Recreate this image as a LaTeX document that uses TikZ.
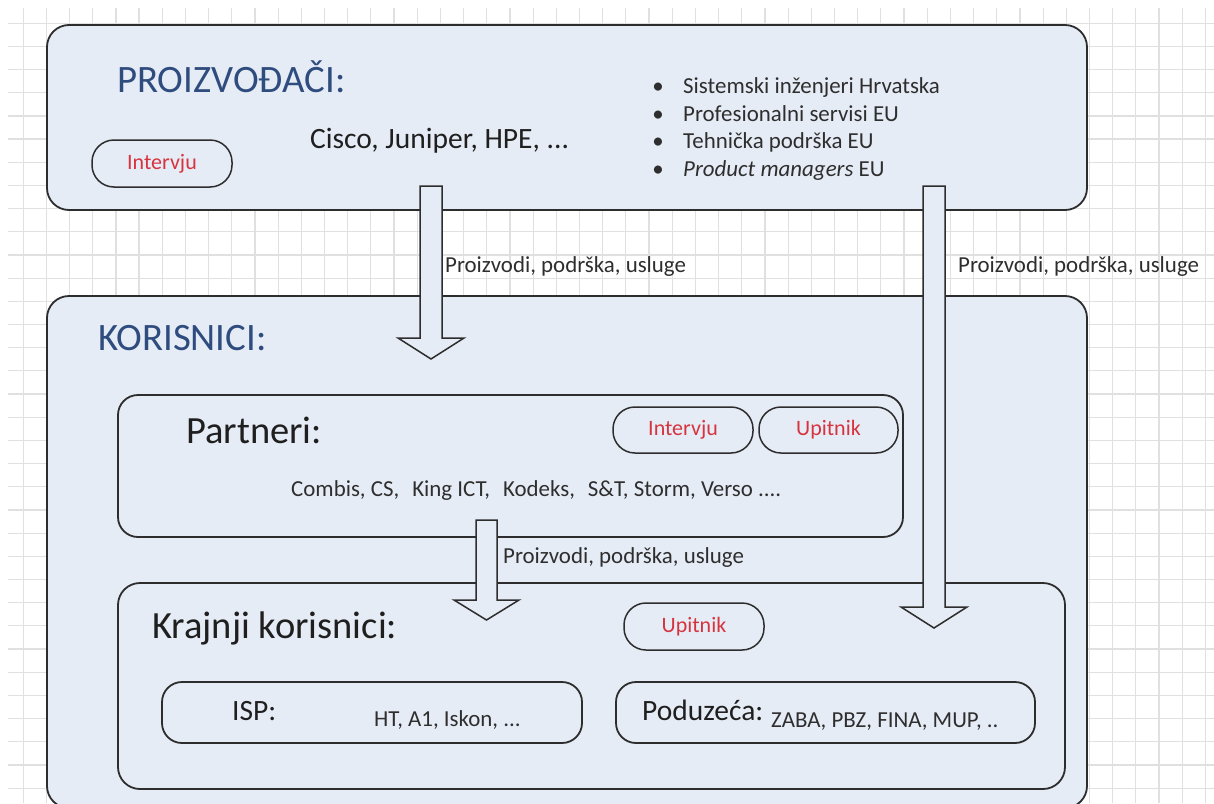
\documentclass[tikz,border=0pt]{standalone}
\usepackage{fontspec}
\setmainfont{Carlito}
\definecolor{boxfill}{RGB}{230,236,246}
\definecolor{titleblue}{RGB}{47,76,126}
\definecolor{redtxt}{RGB}{214,52,62}
\definecolor{edge}{RGB}{45,45,45}
\definecolor{gridc}{RGB}{224,224,224}
\tikzset{
  gridline/.style={draw=gridc, line width=1.2pt},
  bigbox/.style={draw=edge, fill=boxfill, line width=1.8pt, rounded corners=22pt},
  pill/.style={draw=edge, fill=boxfill, line width=1.5pt, rounded corners=22pt, inner sep=0pt,
    text=redtxt, font=\fontsize{22}{26}\selectfont},
  blockarr/.style={draw=edge, fill=boxfill, line width=1.5pt, line join=miter},
  body/.style={inner sep=0pt, text=black!82, font=\fontsize{22.9}{27}\selectfont},
  title/.style={inner sep=0pt, text=titleblue, font=\fontsize{38.8}{44}\selectfont},
  subtitle/.style={inner sep=0pt, text=black!88, font=\fontsize{38.5}{44}\selectfont},
  mid/.style={inner sep=0pt, text=black!88, font=\fontsize{29.5}{34}\selectfont},
}
\newcommand\mkarrow[7]{% name, xc, shaft half, head half, top, shaft bottom, tip
  \coordinate (#1-top) at (#2,#5);
  \coordinate (#1-tip) at (#2,#7);
  \draw[blockarr] (#2-#3,#5) -- (#2+#3,#5) -- (#2+#3,#6) -- (#2+#4,#6) -- (#1-tip)
    -- (#2-#4,#6) -- (#2-#3,#6) -- cycle;
}
\begin{document}
\begin{tikzpicture}[x=1pt,y=-1pt]
\useasboundingbox (0,0) rectangle (1214,803);
\fill[white] (0,0) rectangle (1214,803);
% grid
\foreach \i in {1,...,52} \draw[gridline] (\i*23.18,8) -- (\i*23.18,803);
\foreach \j in {1,...,34} \draw[gridline] (8,\j*23.18) -- (1214,\j*23.18);

% boxes
\draw[bigbox] (47,25) rectangle (1087,210);
\coordinate (prodbox) at (567,117);
\draw[bigbox] (47,296) rectangle (1087,808);
\coordinate (userbox) at (567,550);
\draw[bigbox, rounded corners=20pt] (118,395) rectangle (903,537);
\draw[bigbox, rounded corners=22pt] (118,583) rectangle (1065,789);
\draw[bigbox, rounded corners=20pt] (162,682) rectangle (582,743);
\draw[bigbox, rounded corners=20pt] (616,682) rectangle (1035,743);

% top box content
\node[title, anchor=base west] (proiz) at (117,92) {PROIZVOĐAČI:};
\node[mid, anchor=base west] (cisco) at (310,148) {Cisco, Juniper, HPE, ...};
\node[pill, minimum width=140pt, minimum height=47pt] (int1) at (162,163.5) {Intervju};
\foreach \t/\y in {{Sistemski inženjeri Hrvatska}/93, {Profesionalni servisi EU}/121,
                   {Tehnička podrška EU}/148, {\textit{Product managers} EU}/176}{
  \node[body, anchor=base] at (658,\y) {•};
  \node[body, anchor=base west] at (683,\y) {\t};
}

% users
\node[title, anchor=base west] (kor) at (98,350) {KORISNICI:};
\node[subtitle, anchor=base west] (part) at (186,443) {Partneri:};
\node[pill, minimum width=140pt, minimum height=46pt] (int2) at (683,430) {Intervju};
\node[pill, minimum width=139pt, minimum height=46pt] (upi2) at (828.5,430) {Upitnik};
\node[body, anchor=base west] (combis) at (291,496) {Combis, CS,\hspace{13pt}King ICT,\hspace{13pt}Kodeks,\hspace{13pt}S\&T, Storm, Verso ....};
\node[subtitle, anchor=base west] (kraj) at (152,638) {Krajnji korisnici:};
\node[pill, minimum width=140pt, minimum height=47pt] (upi3) at (694,626.5) {Upitnik};
\node[mid, anchor=base west] (isp) at (232,720) {ISP:};
\node[body, anchor=base west] (ispl) at (374,726) {HT, A1, Iskon, ...};
\node[mid, anchor=base west] (podu) at (642,720) {Poduzeća:};
\node[body, anchor=base west] (podl) at (771,727) {ZABA, PBZ, FINA, MUP, ..};

% block arrows
\mkarrow{a1}{431}{11}{33}{186}{338}{359}
\mkarrow{a2}{934}{11}{33}{186}{607}{628}
\mkarrow{a3}{486.5}{10.5}{32.5}{520}{600}{620}
\node[body, anchor=base west] (l1) at (445,272) {Proizvodi, podrška, usluge};
\node[body, anchor=base west] (l2) at (958,272) {Proizvodi, podrška, usluge};
\node[body, anchor=base west] (l3) at (503,563) {Proizvodi, podrška, usluge};
\end{tikzpicture}
\end{document}
